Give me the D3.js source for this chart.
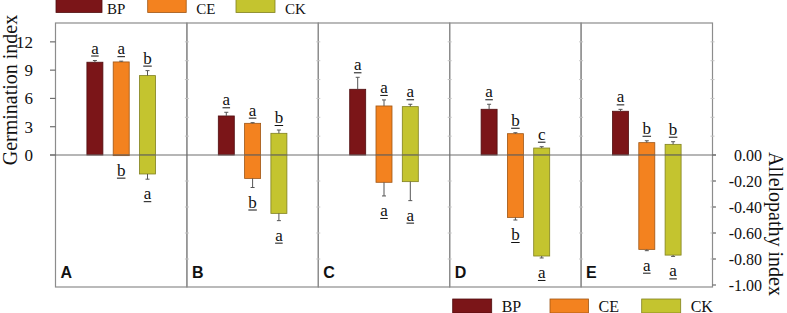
<!DOCTYPE html>
<html>
<head>
<meta charset="utf-8">
<script src="https://cdn.jsdelivr.net/npm/d3@7"></script>
<style>
  body { margin: 0; background: #fff; }
  text { font-family: "Liberation Serif", "Times New Roman", serif; fill: #111; }
  text.panel { font-family: "Liberation Sans", Arial, sans-serif; font-weight: bold; }
</style>
</head>
<body>
<svg id="chart"></svg>
<script>
const panels = ["A", "B", "C", "D", "E"];
const treatments = ["BP", "CE", "CK"];
const colors = ["#7b1518", "#f3821f", "#c4c42f"];

// germination index (bars above zero)
const giBP = [9.84, 4.14, 6.97, 4.85, 4.64];
const giCE = [9.87, 3.36, 5.20, 2.26, 1.31];
const giCK = [8.42, 2.30, 5.13, 0.74, 1.13];
const giErrBP = [0.18, 0.39, 1.27, 0.53, 0.20];
const giErrCE = [0.08, 0.07, 0.64, 0.10, 0.20];
const giErrCK = [0.53, 0.35, 0.25, 0.14, 0.28];
const giLetBP = ["a", "a", "a", "a", "a"];
const giLetCE = ["a", "a", "a", "b", "b"];
const giLetCK = ["b", "b", "a", "c", "b"];

// allelopathy index (bars below zero, BP has none)
const aiCE = [-0.005, -0.18, -0.21, -0.48, -0.726];
const aiCK = [-0.146, -0.449, -0.205, -0.777, -0.77];
const aiErrCE = [0.0, 0.07, 0.105, 0.02, 0.01];
const aiErrCK = [0.04, 0.056, 0.146, 0.015, 0.01];
const aiLetCE = ["b", "b", "a", "b", "a"];
const aiLetCK = ["a", "a", "a", "a", "a"];

const giTicks = [0, 3, 6, 9, 12];
const aiTicks = [0, -0.2, -0.4, -0.6, -0.8, -1.0];
const giMinor = [2, 4, 6, 8, 10, 12];
const aiMinor = [-0.2, -0.4, -0.6, -0.8];

const width = 787, height = 313;
const frameTop = 23, frameBottom = 287;

const svg = d3.select("#chart").attr("width", width).attr("height", height);

const x = d3.scaleBand().domain(panels).range([55.5, 712.5]);
const xi = d3.scalePoint().domain(treatments).range([-26.3, 26.3]);
const yG = d3.scaleLinear().domain([0, 14]).range([155, frameTop]);
const yA = d3.scaleLinear().domain([-1, 0]).range([285, 155]);
const barW = 16;
const color = d3.scaleOrdinal().domain(treatments).range(colors);

const giVals = [giBP, giCE, giCK], giErrs = [giErrBP, giErrCE, giErrCK], giLets = [giLetBP, giLetCE, giLetCK];
const upper = [];
panels.forEach((p, i) => {
    treatments.forEach((t, j) => {
        upper.push({ panel: p, t: t, v: giVals[j][i], e: giErrs[j][i], l: giLets[j][i] });
    });
});
const lower = [];
panels.forEach((p, i) => {
    lower.push({ panel: p, t: "CE", v: aiCE[i], e: aiErrCE[i], l: aiLetCE[i] });
    lower.push({ panel: p, t: "CK", v: aiCK[i], e: aiErrCK[i], l: aiLetCK[i] });
});

const cx = d => x(d.panel) + x.bandwidth() / 2 + xi(d.t);

// panel frames
svg.append("g").selectAll("rect")
    .data(panels)
    .join("rect")
    .attr("x", d => x(d))
    .attr("y", frameTop)
    .attr("width", x.bandwidth())
    .attr("height", frameBottom - frameTop)
    .attr("fill", "none")
    .attr("stroke", "#8c8c8c")
    .attr("stroke-width", 1.2);

// faint minor ticks on panel dividers
const dividers = panels.slice(1).map(p => x(p)).concat([x.range()[1]]);
const minor = svg.append("g").attr("stroke", "#c4c4c4").attr("stroke-width", 1);
dividers.forEach(dx => {
    giMinor.forEach(v => minor.append("line").attr("x1", dx - 2).attr("x2", dx + 2).attr("y1", yG(v)).attr("y2", yG(v)));
    aiMinor.forEach(v => minor.append("line").attr("x1", dx - 2).attr("x2", dx + 2).attr("y1", yA(v)).attr("y2", yA(v)));
});

// bars
const bars = svg.append("g");
bars.selectAll("rect.up")
    .data(upper)
    .join("rect")
    .attr("class", "up")
    .attr("x", d => cx(d) - barW / 2)
    .attr("y", d => yG(d.v))
    .attr("width", barW)
    .attr("height", d => yG(0) - yG(d.v))
    .attr("fill", d => color(d.t))
    .attr("stroke", d => d3.color(color(d.t)).darker(1.2))
    .attr("stroke-width", 0.8);

bars.selectAll("rect.down")
    .data(lower)
    .join("rect")
    .attr("class", "down")
    .attr("x", d => cx(d) - barW / 2)
    .attr("y", yA(0))
    .attr("width", barW)
    .attr("height", d => yA(d.v) - yA(0))
    .attr("fill", d => color(d.t))
    .attr("stroke", d => d3.color(color(d.t)).darker(1.2))
    .attr("stroke-width", 0.8);

// error bars
const err = svg.append("g").attr("stroke", "#555").attr("stroke-width", 1);
upper.forEach(d => {
    err.append("line").attr("x1", cx(d)).attr("x2", cx(d)).attr("y1", yG(d.v)).attr("y2", yG(d.v + d.e));
    err.append("line").attr("x1", cx(d) - 2).attr("x2", cx(d) + 2).attr("y1", yG(d.v + d.e)).attr("y2", yG(d.v + d.e));
});
lower.forEach(d => {
    if (d.e <= 0) return;
    err.append("line").attr("x1", cx(d)).attr("x2", cx(d)).attr("y1", yA(d.v)).attr("y2", yA(d.v - d.e));
    err.append("line").attr("x1", cx(d) - 2).attr("x2", cx(d) + 2).attr("y1", yA(d.v - d.e)).attr("y2", yA(d.v - d.e));
});

// zero line
svg.append("line")
    .attr("x1", 50).attr("x2", 716)
    .attr("y1", yG(0)).attr("y2", yG(0))
    .attr("stroke", "#6e6e6e").attr("stroke-width", 1.2);

// significance letters with underline
function letter(g, lx, ly, s) {
    const t = g.append("text")
        .attr("x", lx).attr("y", ly)
        .attr("text-anchor", "middle")
        .attr("font-size", 17)
        .text(s);
    const w = t.node().getComputedTextLength();
    g.append("line")
        .attr("x1", lx - w / 2).attr("x2", lx + w / 2)
        .attr("y1", ly + 2.5).attr("y2", ly + 2.5)
        .attr("stroke", "#111").attr("stroke-width", 1);
}
const letters = svg.append("g");
upper.forEach(d => letter(letters, cx(d), yG(d.v + d.e) - 7, d.l));
lower.forEach(d => letter(letters, cx(d), yA(d.v - d.e) + 20, d.l));

// panel letters
svg.append("g").selectAll("text")
    .data(panels)
    .join("text")
    .attr("class", "panel")
    .attr("x", d => x(d) + 5)
    .attr("y", 278)
    .attr("font-size", 16)
    .text(d => d);

// left axis
const left = svg.append("g");
giTicks.forEach(v => {
    left.append("line").attr("x1", 50).attr("x2", 55.5).attr("y1", yG(v)).attr("y2", yG(v))
        .attr("stroke", "#6e6e6e").attr("stroke-width", 1.2);
    left.append("text").attr("x", 33).attr("y", yG(v)).attr("dy", "0.35em")
        .attr("text-anchor", "end").attr("font-size", 17).text(v);
});
svg.append("text")
    .attr("transform", "translate(17,90) rotate(-90)")
    .attr("text-anchor", "middle")
    .attr("font-size", 20)
    .text("Germination index");

// right axis
const right = svg.append("g");
aiTicks.forEach(v => {
    right.append("line").attr("x1", 712.5).attr("x2", 716).attr("y1", yA(v)).attr("y2", yA(v))
        .attr("stroke", "#6e6e6e").attr("stroke-width", 1.2);
    right.append("text").attr("x", 762).attr("y", yA(v)).attr("dy", "0.35em")
        .attr("text-anchor", "end").attr("font-size", 16).text(d3.format(".2f")(v).replace("−", "-"));
});
svg.append("text")
    .attr("transform", "translate(769,224) rotate(90)")
    .attr("text-anchor", "middle")
    .attr("font-size", 20)
    .text("Allelopathy index");

// legends
function legend(lx, ly, items, ty, fs) {
    const g = svg.append("g");
    items.forEach(it => {
        g.append("rect").attr("x", lx + it.dx).attr("y", ly).attr("width", it.w).attr("height", 14)
            .attr("fill", color(it.t)).attr("stroke", d3.color(color(it.t)).darker(1.2)).attr("stroke-width", 0.8);
        g.append("text").attr("x", lx + it.dx + it.w + it.gap).attr("y", ly + ty)
            .attr("font-size", fs).text(it.t);
    });
}
legend(56, -1.5, [{ t: "BP", dx: 0, w: 46, gap: 5 }, { t: "CE", dx: 91.7, w: 38.5, gap: 10 }, { t: "CK", dx: 180, w: 39, gap: 10 }], 15, 15);
legend(452.7, 299, [{ t: "BP", dx: 0, w: 39, gap: 10 }, { t: "CE", dx: 97.3, w: 38.5, gap: 10 }, { t: "CK", dx: 189, w: 39, gap: 10 }], 12.5, 16);
</script>
</body>
</html>
